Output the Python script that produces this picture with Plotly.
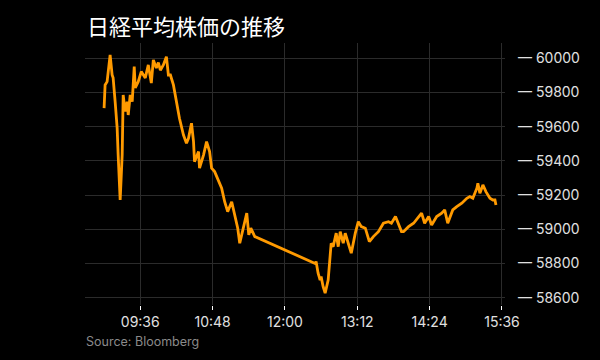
import plotly.graph_objects as go

DAY = "2025-10-31 "

times = [
    "09:00", "09:01", "09:03", "09:06", "09:08", "09:09", "09:11", "09:13", "09:14", "09:16",
    "09:18", "09:19", "09:21", "09:23", "09:24", "09:26", "09:28", "09:30", "09:31", "09:34",
    "09:37", "09:41", "09:44", "09:46", "09:47", "09:49", "09:52", "09:54", "09:56", "09:59",
    "10:02", "10:04",
    "10:06", "10:09", "10:12", "10:15", "10:19", "10:22", "10:24", "10:27", "10:29", "10:30",
    "10:34", "10:35", "10:39", "10:42", "10:45", "10:47", "10:50", "10:54", "10:57", "11:00",
    "11:03", "11:07", "11:10", "11:13", "11:15", "11:18", "11:22", "11:24", "11:26", "11:30",
    "12:30", "12:31", "12:33", "12:35", "12:36", "12:38", "12:40", "12:43", "12:46", "12:48",
    "12:51", "12:53", "12:55", "12:58", "13:00", "13:03", "13:06", "13:10", "13:13", "13:16",
    "13:20", "13:24", "13:28", "13:33", "13:38", "13:43", "13:46", "13:50", "13:53", "13:56",
    "13:58", "14:03", "14:08", "14:13", "14:16", "14:19", "14:23", "14:26", "14:31", "14:36",
    "14:39", "14:42", "14:47", "14:51", "14:56", "15:01", "15:04", "15:07", "15:11", "15:12",
    "15:14", "15:17", "15:20", "15:24", "15:27", "15:29", "15:30",
]

values = [
    59708, 59844, 59863, 60019, 59902, 59885, 59746, 59592, 59435, 59171,
    59435, 59785, 59688, 59746, 59668, 59785, 59746, 59951, 59826, 59863,
    59922, 59885, 59961, 59902, 59855, 59990, 59943, 59975, 59930, 59961,
    60009, 59902,
    59902, 59844, 59746, 59649, 59551, 59503, 59532, 59620, 59512, 59395,
    59454, 59357, 59435, 59512, 59454, 59357, 59337, 59278, 59240, 59161,
    59103, 59161, 59084, 59006, 58918, 58986, 59094, 58967, 59006, 58957,
    58800, 58811, 58743, 58703, 58723, 58664, 58626, 58703, 58918, 58898,
    58977, 58898, 58986, 58918, 58977, 58918, 58860, 58977, 59044, 59015,
    59006, 58927, 58957, 58986, 59035, 59044, 59035, 59074, 59035, 58986,
    58986, 59015, 59035, 59074, 59094, 59035, 59074, 59025, 59074, 59094,
    59113, 59035, 59113, 59132, 59152, 59181, 59191, 59181, 59240, 59269,
    59211, 59259, 59220, 59181, 59171, 59171, 59142,
]

x_ticks = ["09:36", "10:48", "12:00", "13:12", "14:24", "15:36"]
y_ticks = [58600, 58800, 59000, 59200, 59400, 59600, 59800, 60000]

title_text = "日経平均株価の推移"
source_text = "Source: Bloomberg"

fig = go.Figure()
fig.add_trace(go.Scatter(
    x=[DAY + t for t in times],
    y=values,
    mode="lines",
    line=dict(color="#FF9A00", width=2.8),
    hoverinfo="skip",
))

fig.update_layout(
    width=600, height=360,
    paper_bgcolor="#000000", plot_bgcolor="#000000",
    margin=dict(l=85, r=95, t=43, b=55),
    showlegend=False,
    font=dict(family="Inter, Roboto, sans-serif", color="#dddddd", size=14),
    title=dict(
        text=title_text,
        font=dict(family="Noto Sans CJK JP", size=22, color="#ffffff"),
        x=87 / 600, xanchor="left", xref="container",
        y=1 - 27 / 360, yanchor="middle", yref="container",
        pad=dict(l=0, t=0, b=0, r=0),
    ),
    annotations=[dict(
        text=source_text, showarrow=False,
        xref="paper", yref="paper",
        x=(84 - 85) / 420, xanchor="left",
        y=(305 - 341) / 262, yanchor="middle",
        font=dict(family="Inter, Roboto, sans-serif", size=12.5, color="#8a8a8a"),
    )],
)

fig.update_xaxes(
    type="date",
    range=[DAY + "08:41", DAY + "15:39"],
    tickvals=[DAY + t for t in x_ticks],
    ticktext=x_ticks,
    showgrid=True, gridcolor="#2b2b2b", gridwidth=1,
    ticks="outside", ticklen=4, tickcolor="#ffffff", tickwidth=1,
    showline=False, zeroline=False,
    tickfont=dict(size=14, color="#e0e0e0"),
)

fig.update_yaxes(
    side="right",
    range=[58557, 60089],
    tickvals=y_ticks,
    ticktext=["— " + str(v) for v in y_ticks],
    showgrid=True, gridcolor="#2b2b2b", gridwidth=1,
    ticks="", showline=False, zeroline=False,
    ticklabelstandoff=12,
    tickfont=dict(size=14, color="#e0e0e0"),
)

fig.write_html("out.html")
